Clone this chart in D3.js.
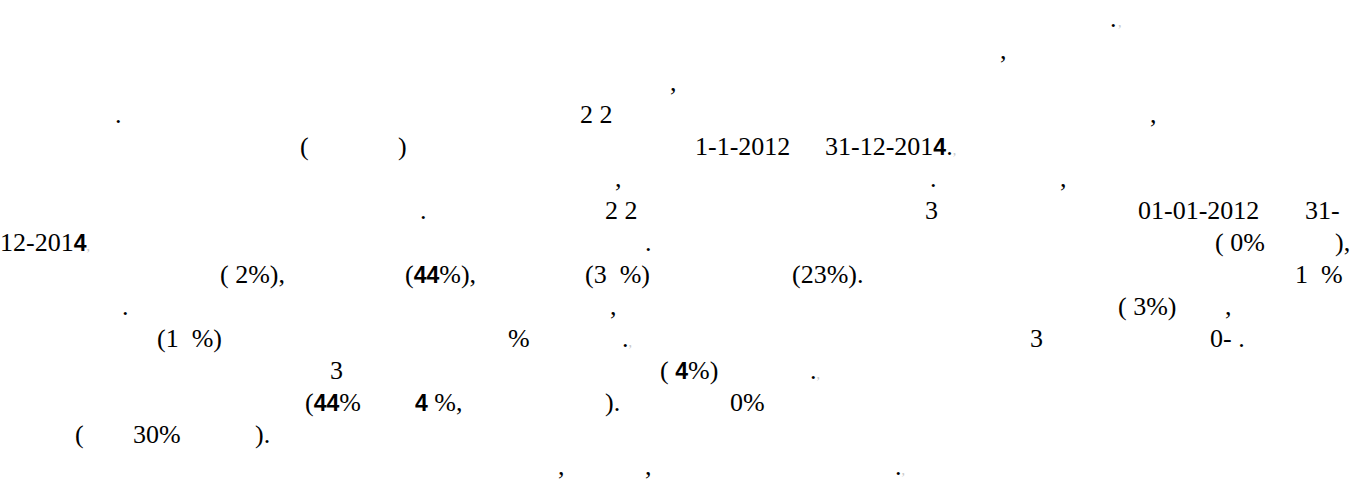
<!DOCTYPE html>
<html lang="en">
<head>
<meta charset="UTF-8">
<title>Page fragments</title>
<script src="https://d3js.org/d3.v7.min.js"></script>
<style>
  body { margin: 0; background: #fff; }
  svg { display: block; }
  .frag { font-family: "Liberation Serif", "Times New Roman", serif; font-size: 26px; fill: #000; }
  .heavy { font-family: "Liberation Sans", Arial, sans-serif; font-weight: 700; font-size: 23px; }
  .faint { fill: #c8c8c8; font-size: 14px; }
</style>
</head>
<body>
<div id="page"></div>
<script>
// text line each fragment sits on (1 = top line)
const lineIndex = [1, 1, 2, 3, 4, 4, 4, 5, 5, 5, 5, 6, 6, 6, 7, 7, 7, 7, 7, 8, 8, 8, 8,
  9, 9, 9, 9, 9, 10, 10, 10, 10, 11, 11, 11, 11, 11, 12, 12, 12, 13, 13, 13, 13, 14, 14, 14, 15, 15, 15];
// column (px from the left margin) where the fragment starts
const columnStart = [1110, 1118, 1000, 670, 115, 580, 1150, 300, 398, 695, 825, 615, 930, 1060,
  420, 605, 925, 1138, 1305, 0, 645, 1215, 1335,
  220, 405, 585, 792, 1295, 122, 610, 1118, 1225, 157, 508, 622, 1030, 1210,
  330, 660, 810, 305, 415, 605, 730, 75, 133, 255, 558, 645, 895];
// the visible text; a "|" marks the start of a heavy glyph run, "~" a faint mark
const fragmentText = [".", "~,", ",", ",", ".", "2 2", ",", "(", ")", "1-1-2012", "31-12-201|4|.~,", ",", ".", ",",
  ".", "2 2", "3", "01-01-2012", "31-", "12-201|4|~,", ".", "( 0%", "),",
  "( 2%),", "(|44|%),", "(3  %)", "(23%).", "1  %", ".", ",", "( 3%)", ",", "(1  %)", "%", ".~,", "3", "0- .",
  "3", "( |4|%)", ".~,", "(|44|%", "|4| %,", ").", "0%", "(", "30%", ").", ",", ",", ".~,"];

const W = 1357, H = 495;
const nLines = 15;

const x = d3.scaleLinear().domain([0, W]).range([0, W]);
const y = d3.scaleLinear().domain([1, nLines]).range([27, 475]);

const svg = d3.select('#page').append('svg')
    .attr('width', W)
    .attr('height', H);

const frags = d3.range(fragmentText.length).map(i => ({
  line: lineIndex[i], col: columnStart[i], text: fragmentText[i]
}));

// split a fragment into plain / heavy / faint runs
function runs(s) {
  const out = [];
  let heavy = false;
  s.split('|').forEach((part, k) => {
    if (k > 0) heavy = !heavy;
    const f = part.split('~');
    if (f[0]) out.push({ t: f[0], cls: heavy ? 'heavy' : '' });
    if (f.length > 1 && f[1]) out.push({ t: f[1], cls: 'faint' });
  });
  return out;
}

const t = svg.selectAll('text.frag')
  .data(frags)
  .enter().append('text')
    .attr('class', 'frag')
    .attr('x', d => x(d.col))
    .attr('y', d => y(d.line))
    .attr('xml:space', 'preserve')
    .style('white-space', 'pre');

t.selectAll('tspan')
  .data(d => runs(d.text))
  .enter().append('tspan')
    .attr('class', r => r.cls)
    .text(r => r.t);
</script>
</body>
</html>
